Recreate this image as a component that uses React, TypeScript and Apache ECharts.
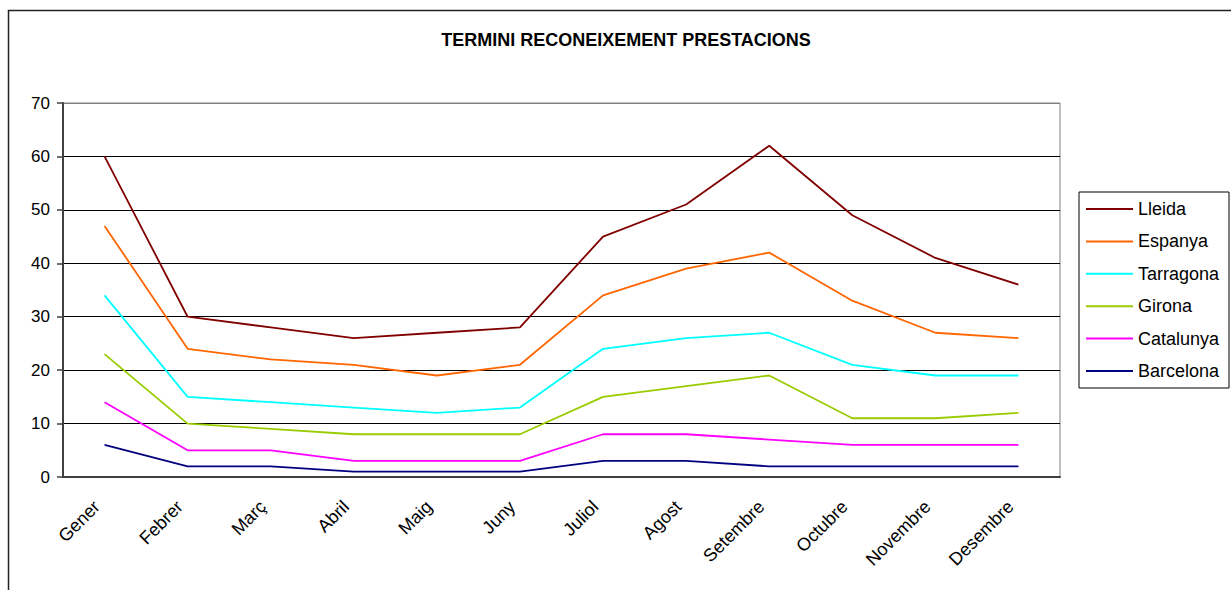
import React, { useEffect, useRef } from "react";
import * as echarts from "echarts";

const months = ["Gener", "Febrer", "Març", "Abril", "Maig", "Juny", "Juliol", "Agost", "Setembre", "Octubre", "Novembre", "Desembre"];
const lleida = [60, 30, 28, 26, 27, 28, 45, 51, 62, 49, 41, 36];
const espanya = [47, 24, 22, 21, 19, 21, 34, 39, 42, 33, 27, 26];
const tarragona = [34, 15, 14, 13, 12, 13, 24, 26, 27, 21, 19, 19];
const girona = [23, 10, 9, 8, 8, 8, 15, 17, 19, 11, 11, 12];
const catalunya = [14, 5, 5, 3, 3, 3, 8, 8, 7, 6, 6, 6];
const barcelona = [6, 2, 2, 1, 1, 1, 3, 3, 2, 2, 2, 2];

const seriesNames = ["Lleida", "Espanya", "Tarragona", "Girona", "Catalunya", "Barcelona"];
const seriesData = [lleida, espanya, tarragona, girona, catalunya, barcelona];
const seriesColors = ["#800000", "#FF6600", "#00FFFF", "#99CC00", "#FF00FF", "#000080"];

const FONT = "Arial, 'Liberation Sans', sans-serif";

export default function App() {
  const ref = useRef<HTMLDivElement>(null);
  useEffect(() => {
    if (!ref.current) return;
    const chart = echarts.init(ref.current, null, { renderer: "svg" });
    chart.setOption({
      animation: false,
      backgroundColor: "#fff",
      title: {
        text: "TERMINI RECONEIXEMENT PRESTACIONS",
        left: 621,
        textAlign: "center",
        top: 26,
        textStyle: { fontFamily: FONT, fontSize: 18, fontWeight: "bold", color: "#000" },
      },
      graphic: [
        {
          type: "rect",
          shape: { x: 8.5, y: 10.5, width: 1240, height: 600 },
          style: { fill: "none", stroke: "#222", lineWidth: 1.5 },
          silent: true,
        },
      ],
      legend: {
        orient: "vertical",
        left: 1079,
        top: 192,
        icon: "rect",
        itemWidth: 47,
        itemHeight: 2,
        itemGap: 14.4,
        padding: [8, 6, 8, 7],
        borderColor: "#000",
        borderWidth: 1,
        textStyle: { fontFamily: FONT, fontSize: 18, color: "#000", lineHeight: 18, width: 85 },
        data: seriesNames,
      },
      grid: {
        left: 63,
        right: 171,
        top: 103,
        bottom: 113,
        show: true,
        borderColor: "#808080",
        borderWidth: 1,
      },
      xAxis: {
        type: "category",
        data: months,
        boundaryGap: true,
        axisLine: { lineStyle: { color: "#404040", width: 2 } },
        axisTick: { length: 5, lineStyle: { color: "#404040", width: 1.5 } },
        axisLabel: {
          rotate: 45,
          margin: 19,
          padding: [0, 11, 0, 0],
          fontFamily: FONT,
          fontSize: 18,
          color: "#000",
          interval: 0,
        },
        splitLine: { show: false },
      },
      yAxis: {
        type: "value",
        min: 0,
        max: 70,
        interval: 10,
        axisLine: { show: true, lineStyle: { color: "#404040", width: 2 } },
        axisTick: { show: true, length: 6, lineStyle: { color: "#404040", width: 1.5 } },
        axisLabel: { margin: 13, fontFamily: FONT, fontSize: 17, color: "#000" },
        splitLine: {
          show: true,
          lineStyle: { color: ["#000", "#000", "#000", "#000", "#000", "#000", "#000", "#808080"], width: 1 },
        },
      },
      series: seriesNames.map((name, i) => ({
        name,
        type: "line",
        data: seriesData[i],
        symbol: "none",
        lineStyle: { color: seriesColors[i], width: 1.8 },
        itemStyle: { color: seriesColors[i] },
      })),
    });
    return () => chart.dispose();
  }, []);
  return <div ref={ref} style={{ position: "fixed", left: 0, top: 0, width: 1231, height: 590 }} />;
}
